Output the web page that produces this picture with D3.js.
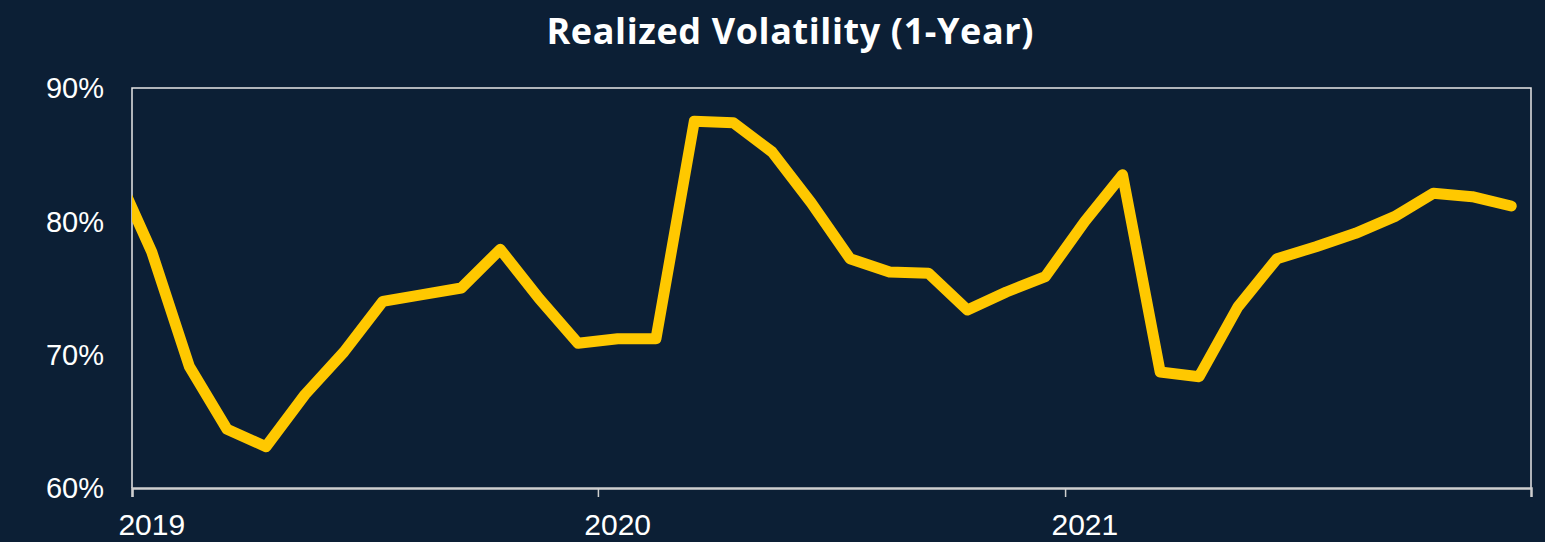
<!DOCTYPE html>
<html>
<head>
<meta charset="utf-8">
<script src="https://cdn.jsdelivr.net/npm/d3@7"></script>
<style>
  html, body { margin: 0; padding: 0; background: #0c1f35; }
  svg { display: block; }
</style>
</head>
<body>
<div id="chart"></div>
<script>
// Months (one point per month, drawn at mid-month)
const months = [
  "2018-12",
  "2019-01", "2019-02", "2019-03", "2019-04", "2019-05", "2019-06",
  "2019-07", "2019-08", "2019-09", "2019-10", "2019-11", "2019-12",
  "2020-01", "2020-02", "2020-03", "2020-04", "2020-05", "2020-06",
  "2020-07", "2020-08", "2020-09", "2020-10", "2020-11", "2020-12",
  "2021-01", "2021-02", "2021-03", "2021-04", "2021-05", "2021-06",
  "2021-07", "2021-08", "2021-09", "2021-10", "2021-11", "2021-12"
];

// Realized volatility (1-year), percent
const volatility = [
  84.3,
  77.7, 69.1, 64.4, 63.1, 67.0, 70.2,
  74.0, 74.5, 75.0, 77.9, 74.2, 70.85,
  71.2, 71.2, 87.5, 87.4, 85.2, 81.4,
  77.2, 76.2, 76.1, 73.35, 74.7, 75.85,
  80.0, 83.5, 68.7, 68.35, 73.6, 77.2,
  78.1, 79.1, 80.35, 82.1, 81.85, 81.15
];

// Axis ticks
const yTicks = [60, 70, 80, 90];
const yearTicks = ["2019", "2020", "2021"];

const width = 1545;
const height = 542;
const margin = { top: 88, right: 14, bottom: 54, left: 132 };

const parseMonth = d3.timeParse("%Y-%m");
const parseYear = d3.timeParse("%Y");

// mid-point of a month
function midMonth(m) {
  const start = parseMonth(m);
  const end = d3.timeMonth.offset(start, 1);
  return new Date((start.getTime() + end.getTime()) / 2);
}

const data = months.map((m, i) => ({ date: midMonth(m), value: volatility[i] }));

const svg = d3.select("#chart")
  .append("svg")
  .attr("width", width)
  .attr("height", height);

svg.append("rect")
  .attr("width", width)
  .attr("height", height)
  .attr("fill", "#0c1f35");

const x = d3.scaleTime()
  .domain([parseYear("2019"), parseYear("2022")])
  .range([margin.left, width - margin.right]);

const y = d3.scaleLinear()
  .domain([60, 90])
  .range([height - margin.bottom, margin.top]);

// Title
svg.append("text")
  .attr("x", 790)
  .attr("y", 44)
  .attr("text-anchor", "middle")
  .attr("fill", "#ffffff")
  .attr("textLength", 487)
  .attr("lengthAdjust", "spacing")
  .style("font-family", "'Open Sans', Lato, sans-serif")
  .style("font-weight", "700")
  .style("font-size", "36px")
  .style("font-variant-ligatures", "none")
  .text("Realized Volatility (1-Year)");

// Plot frame (top, left, right)
svg.append("path")
  .attr("d", `M${x.range()[0]},${y(60)}V${y(90)}H${x.range()[1]}V${y(60)}`)
  .attr("fill", "none")
  .attr("stroke", "#e8e8e8")
  .attr("stroke-width", 1.5);

// Y axis labels
svg.append("g")
  .selectAll("text")
  .data(yTicks)
  .join("text")
  .attr("x", 104)
  .attr("y", d => y(d))
  .attr("dy", "0.36em")
  .attr("text-anchor", "end")
  .attr("fill", "#ffffff")
  .style("font-family", "'Liberation Sans', Arial, sans-serif")
  .style("font-size", "29px")
  .text(d => d + "%");

// X axis line and ticks
const xAxis = svg.append("g")
  .attr("transform", `translate(0,${y(60)})`)
  .call(d3.axisBottom(x)
    .tickValues(yearTicks.map(parseYear))
    .tickSize(9)
    .tickFormat(""));

xAxis.select(".domain")
  .attr("stroke", "#cfcfcf")
  .attr("stroke-width", 2.5);
xAxis.selectAll(".tick line")
  .attr("stroke", "#cfcfcf")
  .attr("stroke-width", 1.5);

// Year labels, centred on mid-January
svg.append("g")
  .selectAll("text")
  .data(yearTicks)
  .join("text")
  .attr("x", d => x(midMonth(d + "-01")))
  .attr("y", 535)
  .attr("text-anchor", "middle")
  .attr("fill", "#ffffff")
  .style("font-family", "'Liberation Sans', Arial, sans-serif")
  .style("font-size", "30px")
  .text(d => d);

// Clip the line to the plot area
svg.append("clipPath")
  .attr("id", "plot-clip")
  .append("rect")
  .attr("x", x.range()[0])
  .attr("y", 0)
  .attr("width", x.range()[1] - x.range()[0] + 20)
  .attr("height", height);

const line = d3.line()
  .x(d => x(d.date))
  .y(d => y(d.value));

svg.append("path")
  .datum(data)
  .attr("clip-path", "url(#plot-clip)")
  .attr("fill", "none")
  .attr("stroke", "#ffc800")
  .attr("stroke-width", 11)
  .attr("stroke-linejoin", "round")
  .attr("stroke-linecap", "round")
  .attr("d", line);
</script>
</body>
</html>
